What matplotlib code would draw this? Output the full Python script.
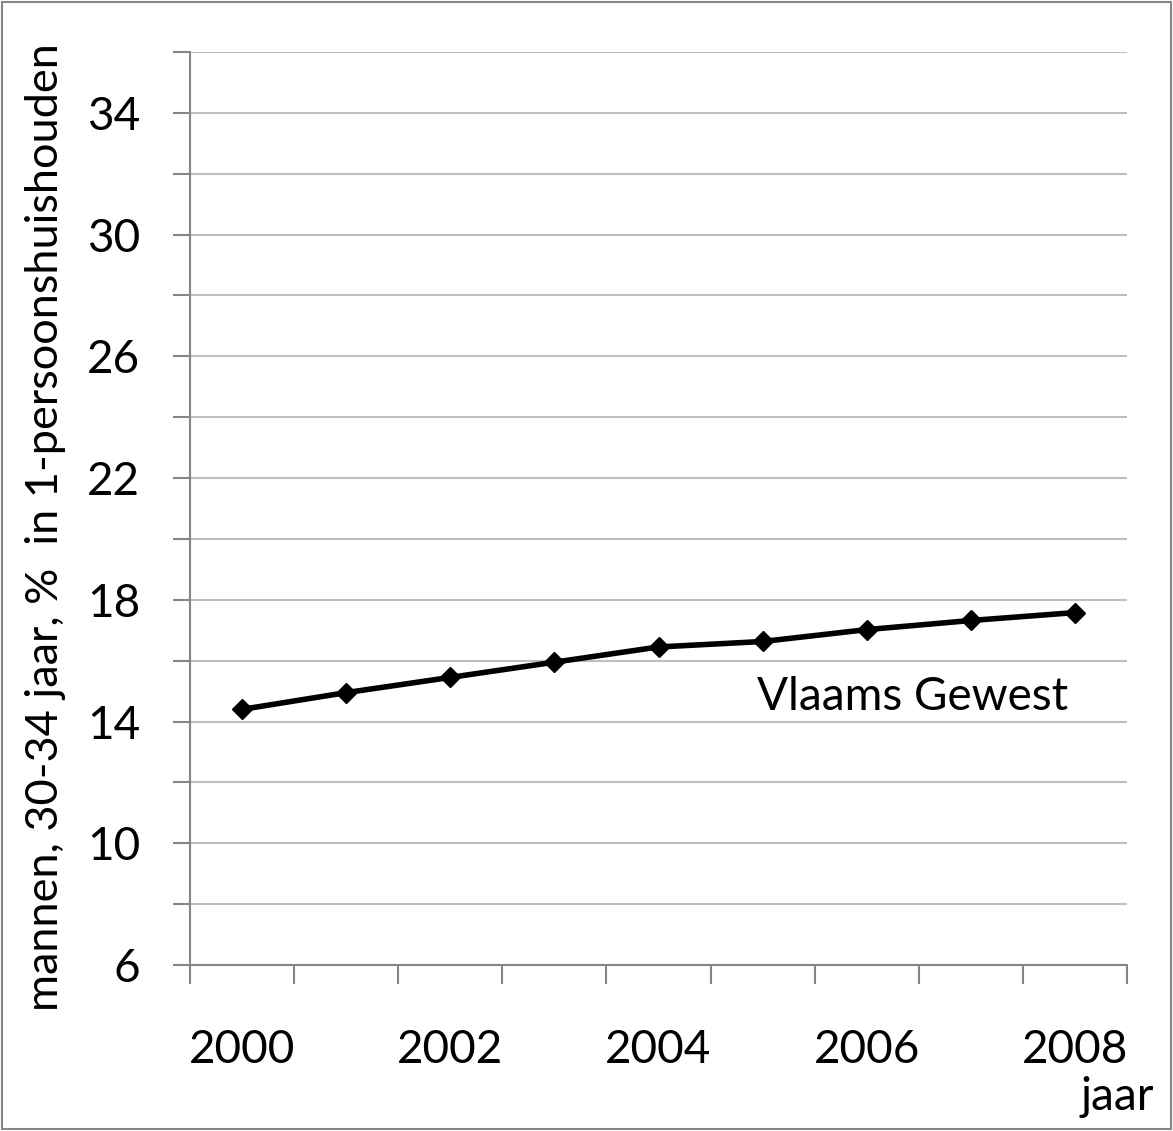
import numpy as np
import matplotlib.pyplot as plt
from matplotlib.patches import Rectangle

# data
years = [2000, 2001, 2002, 2003, 2004, 2005, 2006, 2007, 2008]
share = [14.4, 14.95, 15.45, 15.95, 16.45, 16.63, 17.02, 17.32, 17.58]
ytick_labels = [6, 10, 14, 18, 22, 26, 30, 34]
series_name = "Vlaams Gewest"

plt.rcParams['font.family'] = ['Lato', 'DejaVu Sans']

fig = plt.figure(figsize=(11.73, 11.31), dpi=100)
ax = fig.add_axes([190/1173, 1 - 965/1131, 937/1173, 913/1131])

x = np.arange(len(years))
ax.plot(x, share, color="black", linewidth=4, marker="D", markersize=10, zorder=3)

ax.set_xlim(-0.5, len(years) - 0.5)
ax.set_ylim(6, 36)

# gridlines every 2, labels every 4
ax.set_yticks(np.arange(6, 37, 2))
ax.set_yticklabels([str(v) if v in ytick_labels else "" for v in np.arange(6, 37, 2)])
ax.yaxis.grid(True, color="#BFBFBF", linewidth=1.5)
ax.set_axisbelow(True)

ax.set_xticks(x)
ax.set_xticklabels([str(y) if i % 2 == 0 else "" for i, y in enumerate(years)])
ax.set_xticks(np.arange(-0.5, len(years), 1), minor=True)
ax.tick_params(axis="x", which="major", length=0, pad=46, labelsize=33)
ax.tick_params(axis="x", which="minor", length=14, width=1.5, color="#868686")
ax.tick_params(axis="y", length=12, width=1.5, color="#868686", labelsize=33, pad=24)

for s in ["top", "right"]:
    ax.spines[s].set_visible(False)
for s in ["left", "bottom"]:
    ax.spines[s].set_color("#868686")
    ax.spines[s].set_linewidth(1.5)

ax.set_ylabel("mannen, 30-34 jaar, %  in 1-persoonshuishouden", fontsize=32.5)
ax.yaxis.set_label_coords(-0.132, 0.48)

ax.text(6.44, 14.8, series_name, fontsize=33, ha="center", va="center")
fig.text(1117/1173, 1 - 1097/1131, "jaar", fontsize=33, ha="center", va="center")

fig.patches.append(Rectangle((0.002, 0.002), 0.996, 0.996, transform=fig.transFigure,
                             fill=False, edgecolor="#868686", linewidth=1.5))

fig.savefig("out.png", dpi=100)
